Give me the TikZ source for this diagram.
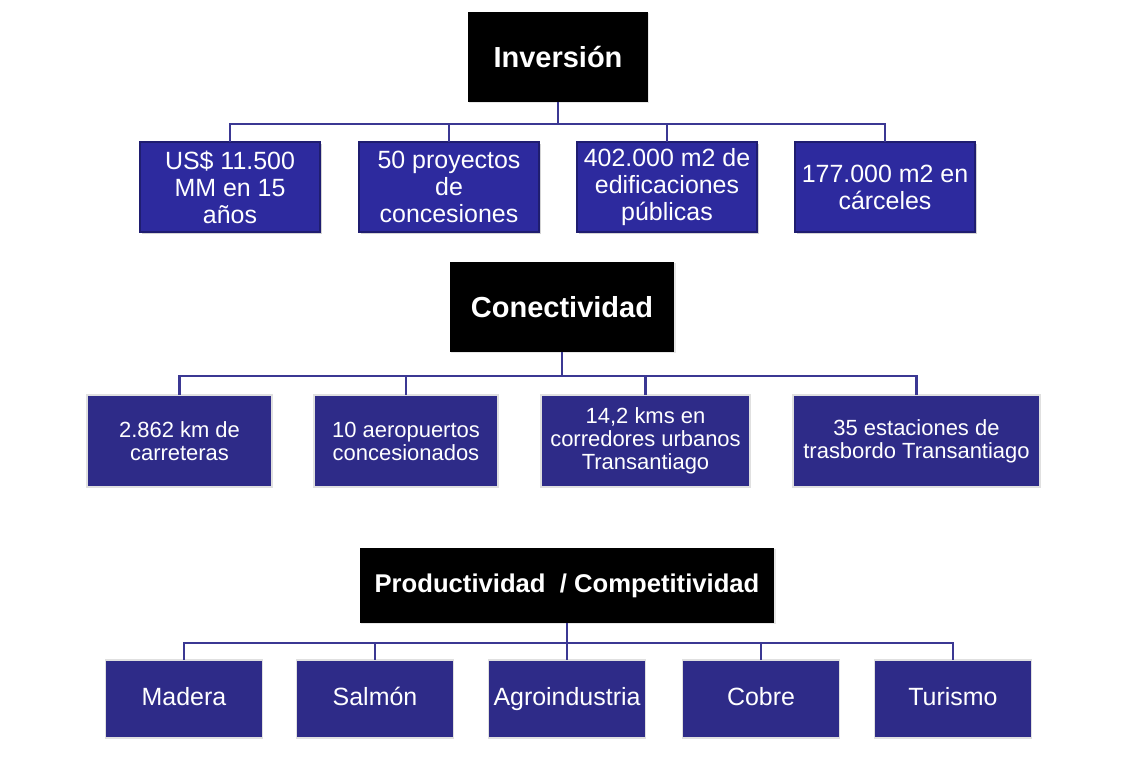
\documentclass[tikz,border=0pt]{standalone}
\usepackage{fontspec}
\setmainfont{Liberation Sans}
\usetikzlibrary{shadows}
\usetikzlibrary{positioning}
\definecolor{azul}{HTML}{2E2B88}
\definecolor{azulbisel}{HTML}{2D2A9E}
\definecolor{azulborde}{HTML}{1F1D70}
\definecolor{linea}{HTML}{3B3893}

\begin{document}
\begin{tikzpicture}[x=0.02cm, y=-0.02cm, every node/.style={inner sep=0pt, outer sep=0pt, align=center, text=white},
		cab/.style={fill=black, font=\fontsize{16.5}{18}\selectfont\bfseries, minimum height=1.8cm, drop shadow={opacity=0.2, shadow xshift=0.8pt, shadow yshift=-0.8pt}},
		bisel/.style={fill=azulbisel, draw=azulborde, line width=1.3pt, minimum width=3.6cm, minimum height=1.8cm, font=\fontsize{14.2}{15.4}\selectfont, drop shadow={opacity=0.35, shadow xshift=1.2pt, shadow yshift=-1.2pt}},
		caja/.style={fill=azul, draw=black!12, line width=0.8pt, font=\fontsize{12.5}{13.1}\selectfont},
		prod/.style={caja, minimum width=3.14cm, minimum height=1.56cm, font=\fontsize{14.2}{15.4}\selectfont, text height=10.2pt, text depth=3pt},
		link/.style={draw=linea, line width=1.4pt}]
		\useasboundingbox (0,0) rectangle (1133,759);
		\begin{scope}
			\node[cab, minimum width=3.6cm] (inv) at (558,57) {Inversión};
			\node[bisel] (i1) at (230,187) {US\$ 11.500\\MM en 15\\años};
			\node[bisel] (i2) at (449,187) {50 proyectos\\de\\concesiones};
			\node[bisel] (i3) at (667,187) {402.000 m2 de\\edificaciones\\públicas};
			\node[bisel] (i4) at (885,187) {177.000 m2 en\\cárceles};
			\coordinate (bi) at (558,124);
			\draw[link] (inv) -- (bi); \draw[link] (bi) -| (i1.north); \draw[link] (bi) -| (i2.north);
			\draw[link] (bi) -| (i3.north); \draw[link] (bi) -| (i4.north);
		\end{scope}
		\begin{scope}
			\node[cab, minimum width=4.5cm] (con) at (562,307) {Conectividad};
			\node[caja, minimum width=3.7cm, minimum height=1.84cm] (c1) at (179.5,441) {2.862 km de\\carreteras};
			\node[caja, minimum width=3.68cm, minimum height=1.84cm] (c2) at (406,441) {10 aeropuertos\\concesionados};
			\node[caja, minimum width=4.18cm, minimum height=1.84cm] (c3) at (645.5,441) {14,2 kms en\\corredores urbanos\\Transantiago};
			\node[caja, minimum width=4.94cm, minimum height=1.84cm] (c4) at (916.5,441) {35 estaciones de\\trasbordo Transantiago};
			\coordinate (bc) at (562,376);
			\draw[link] (con) -- (bc); \draw[link] (bc) -| (c1.north); \draw[link] (bc) -| (c2.north);
			\draw[link] (bc) -| (c3.north); \draw[link] (bc) -| (c4.north);
		\end{scope}
		\begin{scope}
			\node[cab, minimum width=8.3cm, minimum height=1.5cm, font=\fontsize{14.6}{16}\selectfont\bfseries] (pro) at (567,585.5) {Productividad\ \ / Competitividad};
			\node[prod] (p1) at (184,699) {Madera};
			\node[prod] (p2) at (375,699) {Salmón};
			\node[prod] (p3) at (567,699) {Agroindustria};
			\node[prod] (p4) at (761,699) {Cobre};
			\node[prod] (p5) at (953,699) {Turismo};
			\coordinate (bp) at (567,643);
			\draw[link] (pro) -- (bp); \draw[link] (bp) -| (p1.north); \draw[link] (bp) -| (p2.north);
			\draw[link] (bp) -- (p3.north); \draw[link] (bp) -| (p4.north); \draw[link] (bp) -| (p5.north);
		\end{scope}
	\end{tikzpicture}
\end{document}
